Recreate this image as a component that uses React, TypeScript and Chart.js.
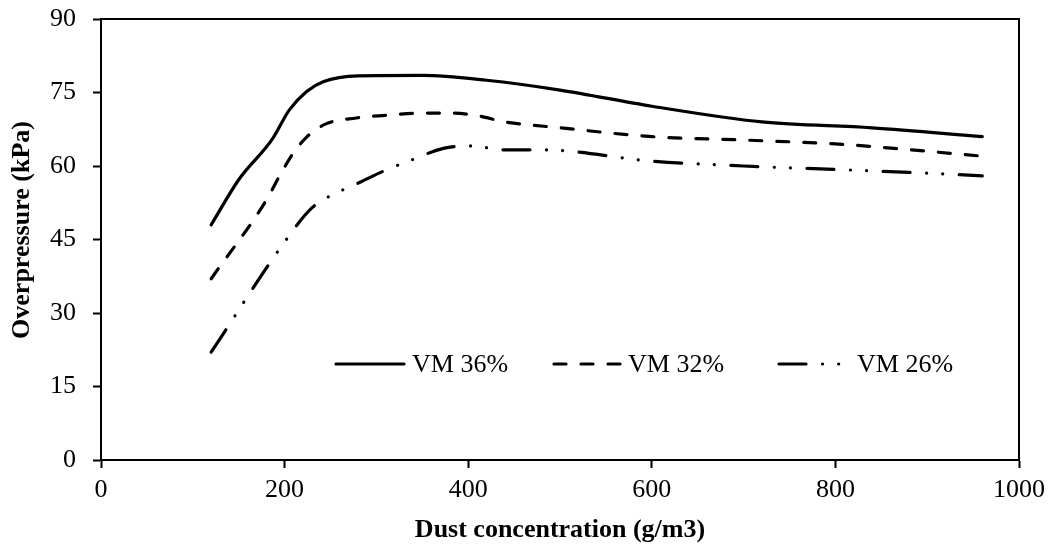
import React, { useEffect, useRef } from "react";
import { Chart, registerables } from "chart.js";

Chart.register(...registerables);

const seriesNames = ["VM 36%", "VM 32%", "VM 26%"];
const vm36X = [120, 150, 187, 205, 224, 242, 280, 350, 420, 500, 600, 720, 840, 960];
const vm36Y = [48, 57.2, 65.6, 71.4, 75.2, 77.2, 78.4, 78.5, 77.5, 75.5, 72.2, 69, 67.8, 66];
const vm32X = [120, 180, 194, 209, 224, 245, 278, 315, 350, 380, 409, 440, 500, 600, 700, 800, 870, 960];
const vm32Y = [37, 53, 57.8, 62.5, 65.9, 68.6, 69.8, 70.4, 70.8, 70.8, 70.3, 69, 67.8, 66, 65.3, 64.5, 63.5, 62];
const vm26X = [120, 200, 230, 262, 280, 307, 338, 373, 402, 440, 480, 600, 700, 800, 880, 960];
const vm26Y = [22, 44.5, 51.5, 55, 56.5, 58.9, 61.2, 63.6, 64.1, 63.3, 63.3, 61, 60, 59.3, 58.7, 58];
const xTicks = [0, 200, 400, 600, 800, 1000];
const yTicks = [0, 15, 30, 45, 60, 75, 90];
const xTitle = "Dust concentration (g/m3)";
const yTitle = "Overpressure (kPa)";

const dashes = [[], [12, 15], [27, 16.5, 0.1, 16, 0.1, 16.5]];
const FONT = "'Liberation Serif', 'Times New Roman', serif";

const toPts = (xs: number[], ys: number[]) => xs.map((x, i) => ({ x, y: ys[i] }));

export default function App() {
  const ref = useRef<HTMLCanvasElement | null>(null);
  useEffect(() => {
    document.body.style.margin = "0";
    const ctx = ref.current!;
    const frameAndLegend = {
      id: "frameAndLegend",
      afterDraw(chart: any) {
        const c = chart.ctx;
        const a = chart.chartArea;
        c.save();
        c.strokeStyle = "#000";
        c.lineWidth = 2;
        c.beginPath();
        c.moveTo(a.left, a.top);
        c.lineTo(a.right, a.top);
        c.lineTo(a.right, a.bottom);
        c.stroke();
        // y title
        c.save();
        c.translate(22, 230);
        c.rotate(-Math.PI / 2);
        c.fillStyle = "#000";
        c.font = "bold 26px " + FONT;
        c.textAlign = "center";
        c.textBaseline = "middle";
        c.fillText(yTitle, 0, 0);
        c.restore();
        // legend
        const ly = 364;
        const items = [
          { x0: 336, x1: 404, tx: 412 },
          { x0: 554, x1: 622, tx: 628 },
          { x0: 779, x1: 840, tx: 857 },
        ];
        items.forEach((it, i) => {
          c.beginPath();
          c.setLineDash(dashes[i]);
          c.lineCap = "round";
          c.lineWidth = 3.2;
          c.strokeStyle = "#000";
          c.moveTo(it.x0, ly);
          c.lineTo(it.x1, ly);
          c.stroke();
          c.setLineDash([]);
          c.fillStyle = "#000";
          c.font = "26px " + FONT;
          c.textBaseline = "middle";
          c.textAlign = "left";
          c.fillText(seriesNames[i], it.tx, ly + 1);
        });
        c.restore();
      },
    };
    const mk = (i: number, xs: number[], ys: number[]) => ({
      label: seriesNames[i],
      data: toPts(xs, ys),
      borderColor: "#000",
      backgroundColor: "#000",
      borderWidth: 3.2,
      borderDash: dashes[i],
      borderCapStyle: "round" as const,
      borderJoinStyle: "round" as const,
      pointRadius: 0,
      cubicInterpolationMode: "monotone" as const,
      fill: false,
    });
    const chart = new Chart(ctx, {
      type: "line",
      data: {
        datasets: [mk(0, vm36X, vm36Y), mk(1, vm32X, vm32Y), mk(2, vm26X, vm26Y)],
      },
      options: {
        animation: false,
        responsive: false,
        layout: { padding: { top: 19, right: 33, left: 0, bottom: 0 } },
        plugins: { legend: { display: false }, tooltip: { enabled: false } },
        scales: {
          x: {
            type: "linear",
            min: 0,
            max: 1000,
            afterBuildTicks: (s: any) => {
              s.ticks = xTicks.map((v) => ({ value: v }));
            },
            afterFit: (s: any) => {
              s.height = 85;
              s.paddingLeft = 0;
              s.paddingRight = 0;
              s.paddingTop = 0;
              s.paddingBottom = 0;
            },
            ticks: {
              color: "#000",
              font: { family: FONT, size: 26 },
              padding: 7,
              maxRotation: 0,
              callback: (v: any) => String(v),
            },
            grid: { drawOnChartArea: false, tickLength: 8, tickWidth: 2, tickColor: "#000" },
            border: { color: "#000", width: 2 },
            title: {
              display: true,
              text: xTitle,
              color: "#000",
              font: { family: FONT, size: 26, weight: "bold" },
              padding: { top: 0, bottom: -1 },
            },
          },
          y: {
            type: "linear",
            min: 0,
            max: 90,
            afterBuildTicks: (s: any) => {
              s.ticks = yTicks.map((v) => ({ value: v }));
            },
            afterFit: (s: any) => {
              s.width = 101;
              s.paddingLeft = 0;
              s.paddingRight = 0;
              s.paddingTop = 0;
              s.paddingBottom = 0;
            },
            ticks: {
              color: "#000",
              font: { family: FONT, size: 26 },
              padding: 17,
              callback: (v: any) => String(v),
            },
            grid: { drawOnChartArea: false, tickLength: 8, tickWidth: 2, tickColor: "#000" },
            border: { color: "#000", width: 2 },
          },
        },
      },
      plugins: [frameAndLegend],
    } as any);
    return () => chart.destroy();
  }, []);
  return (
    <div style={{ width: 1052, height: 545 }}>
      <canvas ref={ref} width={1052} height={545} style={{ display: "block" }} />
    </div>
  );
}
